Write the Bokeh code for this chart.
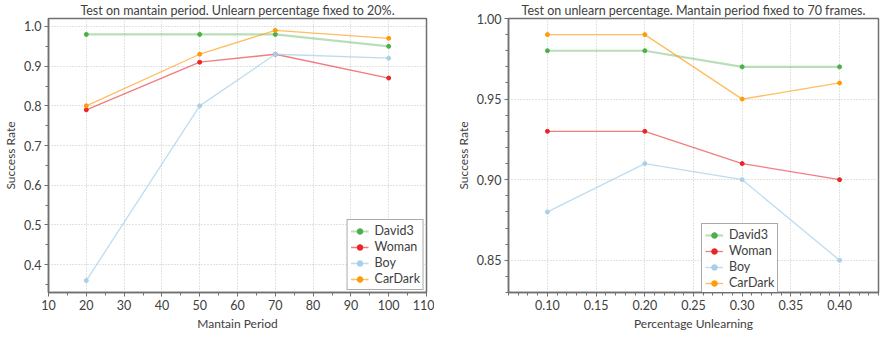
from bokeh.plotting import figure
from bokeh.layouts import row
from bokeh.models import FixedTicker, PrintfTickFormatter, Range1d, Legend, LegendItem
from bokeh.embed import file_html
from bokeh.resources import INLINE

# ---- data ----
series_names = ["David3", "Woman", "Boy", "CarDark"]

period = [20, 50, 70, 100]
period_david3 = [0.98, 0.98, 0.98, 0.95]
period_woman = [0.79, 0.91, 0.93, 0.87]
period_boy = [0.36, 0.80, 0.93, 0.92]
period_cardark = [0.80, 0.93, 0.99, 0.97]

unlearn = [0.10, 0.20, 0.30, 0.40]
unlearn_david3 = [0.98, 0.98, 0.97, 0.97]
unlearn_woman = [0.93, 0.93, 0.91, 0.90]
unlearn_boy = [0.88, 0.91, 0.90, 0.85]
unlearn_cardark = [0.99, 0.99, 0.95, 0.96]

period_ticks = [10, 20, 30, 40, 50, 60, 70, 80, 90, 100, 110]
period_minor = [15, 25, 35, 45, 55, 65, 75, 85, 95, 105]
rate_ticks_left = [0.4, 0.5, 0.6, 0.7, 0.8, 0.9, 1.0]
rate_minor_left = [0.35, 0.45, 0.55, 0.65, 0.75, 0.85, 0.95]
unlearn_ticks = [0.10, 0.15, 0.20, 0.25, 0.30, 0.35, 0.40]
unlearn_minor = [0.06, 0.07, 0.08, 0.09, 0.11, 0.12, 0.13, 0.14, 0.16, 0.17, 0.18, 0.19,
                 0.21, 0.22, 0.23, 0.24, 0.26, 0.27, 0.28, 0.29, 0.31, 0.32, 0.33, 0.34,
                 0.36, 0.37, 0.38, 0.39, 0.41, 0.42, 0.43, 0.44]
rate_ticks_right = [0.85, 0.90, 0.95, 1.00]
rate_minor_right = [0.83, 0.84, 0.86, 0.87, 0.88, 0.89, 0.91, 0.92, 0.93, 0.94,
                    0.96, 0.97, 0.98, 0.99]

FONT = "Lato"
TXT = "#404040"
AX = "#707070"

styles = [
    dict(marker="#4daf4a", line="#4daf4a", alpha=0.4, width=2.2),
    dict(marker="#e8262a", line="#e8262a", alpha=0.6, width=1.3),
    dict(marker="#a9d0ea", line="#a9d0ea", alpha=0.75, width=1.3),
    dict(marker="#ff9a0a", line="#ff9a0a", alpha=0.65, width=1.3),
]


def make(title, xs, ys_list, xr, yr, xt, xm, yt, ym, xfmt, yfmt, xlabel,
         border_left, frame_w, border_right, legend_loc, legend_margin):
    p = figure(output_backend="svg", toolbar_location=None,
               frame_width=frame_w, frame_height=274,
               min_border_left=border_left, min_border_right=border_right,
               min_border_top=14, min_border_bottom=34,
               x_range=Range1d(*xr), y_range=Range1d(*yr))
    p.title.text = title
    p.title.align = "center"
    p.title.text_font = FONT
    p.title.text_font_size = "12.5px"
    p.title.text_font_style = "normal"
    p.title.text_color = TXT
    p.title.standoff = 1
    p.title.offset = 0

    p.xaxis.ticker = FixedTicker(ticks=xt, minor_ticks=xm)
    p.yaxis.ticker = FixedTicker(ticks=yt, minor_ticks=ym)
    p.xaxis.formatter = PrintfTickFormatter(format=xfmt)
    p.yaxis.formatter = PrintfTickFormatter(format=yfmt)
    p.xaxis.axis_label = xlabel
    p.yaxis.axis_label = "Success Rate"
    for ax in (p.xaxis, p.yaxis):
        ax.axis_label_text_font = FONT
        ax.axis_label_text_font_size = "12px"
        ax.axis_label_text_font_style = "normal"
        ax.axis_label_text_color = TXT
        ax.major_label_text_font = FONT
        ax.major_label_text_font_size = "12.5px"
        ax.major_label_text_color = TXT
        ax.axis_line_color = AX
        ax.axis_line_width = 1.5
        ax.major_tick_line_color = AX
        ax.minor_tick_line_color = AX
        ax.major_tick_in = 0
        ax.major_tick_out = 4
        ax.minor_tick_in = 0
        ax.minor_tick_out = 3
        ax.major_label_standoff = 3
        ax.axis_label_standoff = 3
    p.outline_line_color = AX
    p.outline_line_width = 1.5
    p.outline_line_alpha = 1

    for g in (p.xgrid, p.ygrid):
        g.grid_line_color = "#c4c4c4"
        g.grid_line_dash = "1 2"
        g.grid_line_width = 1

    items = []
    for name, ys, st in zip(series_names, ys_list, styles):
        l = p.line(xs, ys, line_color=st["line"], line_alpha=st["alpha"], line_width=st["width"])
        c = p.scatter(xs, ys, size=4, fill_color=st["marker"], line_color=st["marker"])
        items.append(LegendItem(label=name, renderers=[l, c]))

    leg = Legend(items=items, location=legend_loc)
    leg.label_text_font = FONT
    leg.label_text_font_size = "12.5px"
    leg.label_text_color = TXT
    leg.label_height = 14
    leg.glyph_height = 14
    leg.glyph_width = 18
    leg.label_standoff = 6
    leg.spacing = 1
    leg.padding = 3
    leg.margin = legend_margin
    leg.border_line_color = "#555555"
    leg.border_line_width = 1.2
    leg.background_fill_alpha = 1
    p.add_layout(leg)
    return p


p1 = make("Test on mantain period. Unlearn percentage fixed to 20%.", period,
          [period_david3, period_woman, period_boy, period_cardark],
          (10, 110), (0.33, 1.02), period_ticks, period_minor,
          rate_ticks_left, rate_minor_left, "%d", "%.1f", "Mantain Period",
          46, 378, 8, "bottom_right", 2)

p2 = make("Test on unlearn percentage. Mantain period fixed to 70 frames.", unlearn,
          [unlearn_david3, unlearn_woman, unlearn_boy, unlearn_cardark],
          (0.06, 0.44), (0.83, 1.00), unlearn_ticks, unlearn_minor,
          rate_ticks_right, rate_minor_right, "%.2f", "%.2f", "Percentage Unlearning",
          74, 370, 2, (193, -2), 7)

layout = row(p1, p2)
open("out.html", "w").write(file_html(layout, INLINE))
